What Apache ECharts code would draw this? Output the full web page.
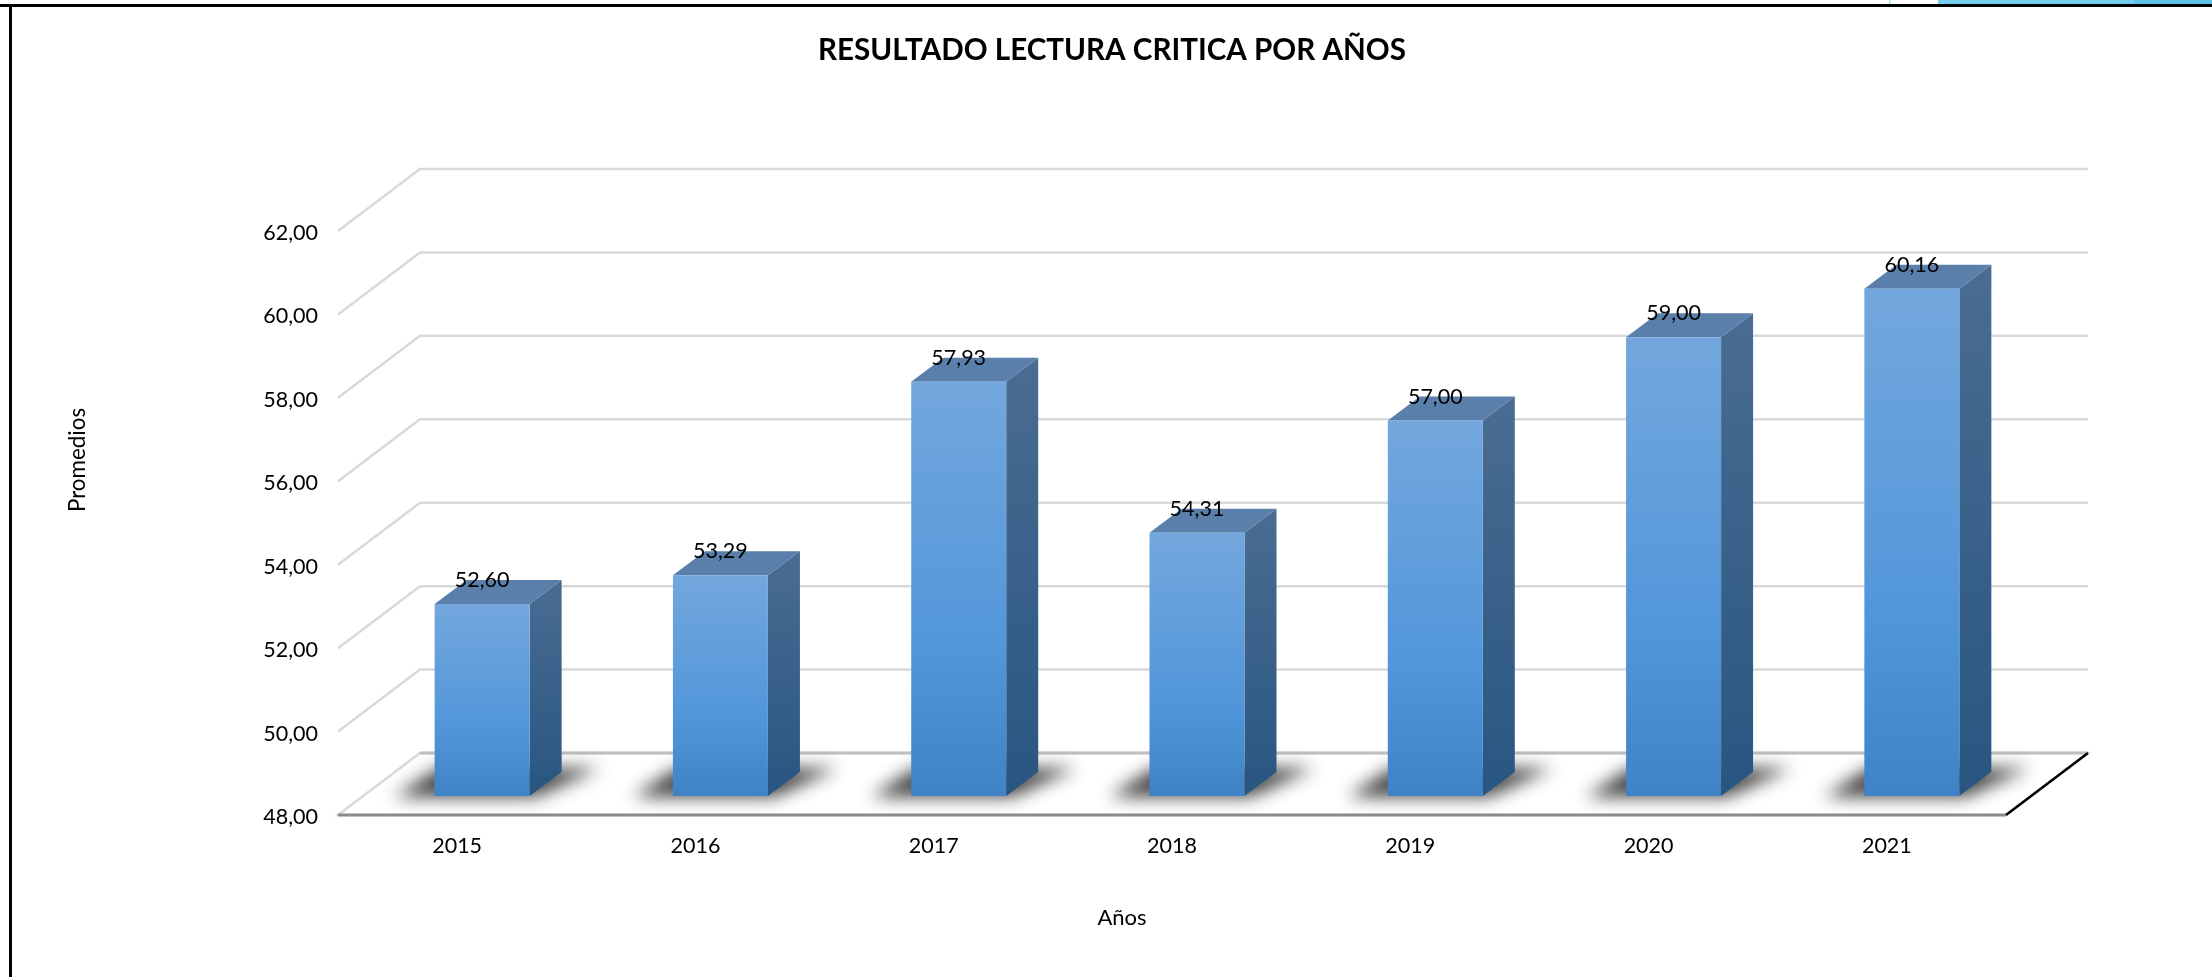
<!DOCTYPE html>
<html><head><meta charset="utf-8">
<style>html,body{margin:0;padding:0;background:#fff}#c{width:2212px;height:977px}</style>
<script src="https://cdn.jsdelivr.net/npm/echarts@6/dist/echarts.min.js"></script>
</head><body><div id="c"></div>
<script>
const categories = ['2015','2016','2017','2018','2019','2020','2021'];
const promedios = [52.60,53.29,57.93,54.31,57.00,59.00,60.16];
const gridTicks = [48,50,52,54,56,58,60,62];
const titleText = 'RESULTADO LECTURA CRITICA POR AÑOS';
const yName = 'Promedios';
const xName = 'Años';
const font = 'Lato, "Open Sans", sans-serif';

const wallDX = 82, wallDY = 62;      // floor depth in px
const barDX = 25, barDY = 19;        // bar plane offset in floor
const sideDX = 32, sideDY = 24;      // bar depth
const barW = 95;

const chart = echarts.init(document.getElementById('c'), null, {renderer:'canvas'});
const fmt = v => v.toFixed(2).replace('.', ',');

function renderFloor(params, api){
  const cs = params.coordSys;
  const y = api.coord([0, gridTicks[0]])[1];
  const l = cs.x, r = cs.x + cs.width;
  return {type:'group', children:[
    {type:'polygon', shape:{points:[[l,y],[r,y],[r+wallDX,y-wallDY],[l+wallDX,y-wallDY]]},
     style:{fill:'#ffffff', stroke:'#d9d9d9', lineWidth:2.5}},
    {type:'line', shape:{x1:l+wallDX,y1:y-wallDY,x2:r+wallDX,y2:y-wallDY}, style:{stroke:'#bfbfbf',lineWidth:3}},
    {type:'line', shape:{x1:l,y1:y,x2:r,y2:y}, style:{stroke:'#8c8c8c',lineWidth:3}},
    {type:'line', shape:{x1:r,y1:y,x2:r+wallDX,y2:y-wallDY}, style:{stroke:'#000000',lineWidth:2.5}}
  ]};
}
function renderWall(params, api){
  const cs = params.coordSys;
  const y = api.coord([0, api.value(0)])[1];
  const l = cs.x, r = cs.x + cs.width;
  return {type:'polyline', shape:{points:[[l,y],[l+wallDX,y-wallDY],[r+wallDX,y-wallDY]]},
    style:{stroke:'#d9d9d9', lineWidth:2.5, fill:null}};
}
function renderBar(params, api){
  const c = api.coord([api.value(0), api.value(1)]);
  const b = api.coord([api.value(0), gridTicks[0]]);
  const x0 = c[0] + barDX - barW/2, x1 = x0 + barW;
  const yT = c[1] - barDY, yB = b[1] - barDY;
  const OFF = 4000;
  const sh = [[x0-40,yB+1],[x1+6,yB+1],[x1+70,yB-28],[x0+4,yB-28]].map(p=>[p[0]-OFF,p[1]]);
  return {type:'group', children:[
    {type:'polygon', shape:{points:sh},
     style:{fill:'#222', shadowColor:'rgba(35,35,35,0.85)', shadowBlur:17, shadowOffsetX:OFF, shadowOffsetY:0}},
    {type:'polygon', shape:{points:[[x1,yT],[x1+sideDX,yT-sideDY],[x1+sideDX,yB-sideDY],[x1,yB]]},
     style:{fill:new echarts.graphic.LinearGradient(0,0,0,1,[{offset:0,color:'#4a6c92'},{offset:1,color:'#285681'}])}},
    {type:'polygon', shape:{points:[[x0,yT],[x1,yT],[x1+sideDX,yT-sideDY],[x0+sideDX,yT-sideDY]]},
     style:{fill:'#5a7faa'}},
    {type:'rect', shape:{x:x0,y:yT,width:barW,height:yB-yT},
     style:{fill:new echarts.graphic.LinearGradient(0,0,0,1,[{offset:0,color:'#73a7dd'},{offset:0.65,color:'#5196da'},{offset:1,color:'#3f83c6'}])}},
    {type:'text', x:x0+barW/2, y:yT-24,
     style:{text:fmt(api.value(1)), font:'21.5px '+font, fill:'#000', align:'center', verticalAlign:'middle'}}
  ]};
}

chart.setOption({
  backgroundColor:'#ffffff',
  animation:false,
  title:{text:titleText, left:1107, top:30, textAlign:'center',
    textStyle:{fontFamily:font,fontSize:29.6,fontWeight:'bold',color:'#000'}},
  grid:{left:338,right:206,top:231,bottom:162,containLabel:false},
  xAxis:{type:'category',data:categories,
    axisLine:{show:false},axisTick:{show:false},splitLine:{show:false},
    axisLabel:{fontFamily:font,fontSize:21.5,color:'#000',margin:20}},
  yAxis:{type:'value',min:48,max:62,interval:2,
    axisLine:{show:false},axisTick:{show:false},splitLine:{show:false},
    axisLabel:{fontFamily:font,fontSize:21.5,color:'#000',margin:20,verticalAlign:'top',lineHeight:4,formatter:v=>fmt(v)}},
  series:[
    {type:'custom',name:'floor',renderItem:renderFloor,data:[[0]],z:1,silent:true},
    {type:'custom',name:'walls',renderItem:renderWall,data:gridTicks.slice(1).map(t=>[t]),z:2,silent:true,encode:{y:0}},
    {type:'custom',name:'Promedios',renderItem:renderBar,z:3,
      data:promedios.map((v,i)=>[i,v]),encode:{x:0,y:1}}
  ],
  graphic:[
    {type:'text',rotation:Math.PI/2,x:78,y:460,style:{text:yName,font:'22.4px '+font,fill:'#000',align:'center',verticalAlign:'middle'}},
    {type:'text',x:1122,y:918,style:{text:xName,font:'22px '+font,fill:'#000',align:'center',verticalAlign:'middle'}},
    {type:'rect',shape:{x:0,y:4,width:2212,height:3},style:{fill:'#000'}},
    {type:'rect',shape:{x:9,y:4,width:3,height:973},style:{fill:'#000'}},
    {type:'rect',shape:{x:1938,y:0,width:196,height:4},style:{fill:'#74cfec'}},
    {type:'rect',shape:{x:2134,y:0,width:78,height:4},style:{fill:'#5bc3e8'}},
    {type:'rect',shape:{x:1889,y:0,width:1.5,height:4},style:{fill:'#a8def2'}}
  ]
});
</script></body></html>
